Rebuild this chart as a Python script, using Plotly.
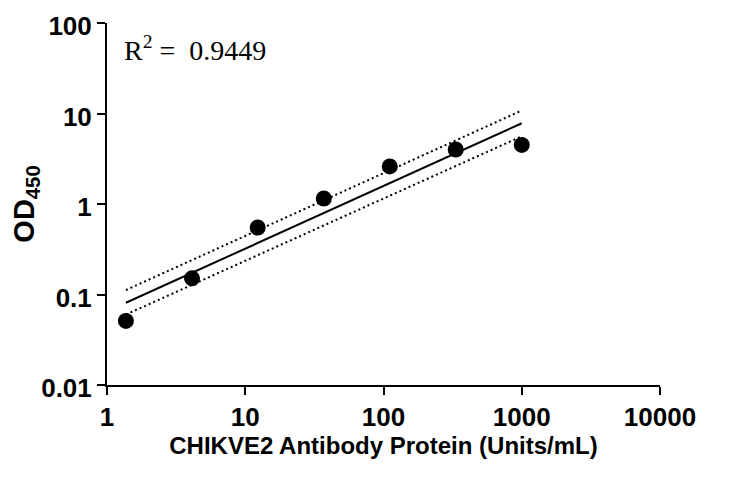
import plotly.graph_objects as go

# Data
conc = [1.37, 4.12, 12.3, 37.0, 111.0, 333.0, 1000.0]
od450 = [0.051, 0.151, 0.55, 1.15, 2.6, 4.0, 4.5]

fit_x = [1.37, 1000.0]
fit_y = [0.081, 7.8]
upper_y = [0.112, 10.8]
lower_y = [0.060, 5.6]

x_ticks = [1, 10, 100, 1000, 10000]
x_tick_labels = ["1", "10", "100", "1000", "10000"]
y_ticks = [0.01, 0.1, 1, 10, 100]
y_tick_labels = ["0.01", "0.1", "1", "10", "100"]

fig = go.Figure()
fig.add_trace(go.Scatter(x=fit_x, y=upper_y, mode="lines",
                         line=dict(color="black", width=2, dash="2px,3px"), showlegend=False))
fig.add_trace(go.Scatter(x=fit_x, y=lower_y, mode="lines",
                         line=dict(color="black", width=2, dash="2px,3px"), showlegend=False))
fig.add_trace(go.Scatter(x=fit_x, y=fit_y, mode="lines",
                         line=dict(color="black", width=2), showlegend=False))
fig.add_trace(go.Scatter(x=conc, y=od450, mode="markers",
                         marker=dict(color="black", size=16), showlegend=False))

axis_font = dict(family="Liberation Sans", size=26, color="black")
fig.update_layout(
    width=750, height=495,
    margin=dict(l=99, r=98, t=15, b=118),
    paper_bgcolor="white", plot_bgcolor="white",
    xaxis=dict(type="log", range=[0, 4], tickvals=x_ticks, ticktext=[f"<b>{t}</b>" for t in x_tick_labels],
               showline=True, linecolor="black", linewidth=2, ticks="outside", ticklen=8,
               tickwidth=2, tickcolor="black", showgrid=False, zeroline=False,
               tickfont=axis_font, automargin=False, ticklabeloverflow="allow",
               title=dict(text="<b>CHIKVE2 Antibody Protein (Units/mL)</b>",
                          font=dict(family="Liberation Sans", size=24, color="black"), standoff=3)),
    yaxis=dict(type="log", range=[-2, 2], tickvals=y_ticks, ticktext=[f"<b>{t}</b>" for t in y_tick_labels],
               showline=True, linecolor="black", linewidth=2, ticks="outside", ticklen=8,
               tickwidth=2, tickcolor="black", showgrid=False, zeroline=False,
               tickfont=axis_font, automargin=False, ticklabeloverflow="allow", ticklabelshift=3,
               title=dict(text="<b>OD<sub>450</sub></b>",
                          font=dict(family="Liberation Sans", size=29, color="black"), standoff=21)),
    annotations=[dict(x=0.027, y=0.93, xref="paper", yref="paper", xanchor="left", yanchor="middle",
                      text="R<sup>2</sup> =  0.9449", showarrow=False,
                      font=dict(family="Liberation Serif", size=28, color="black"))],
)

fig.write_html("out.html")
